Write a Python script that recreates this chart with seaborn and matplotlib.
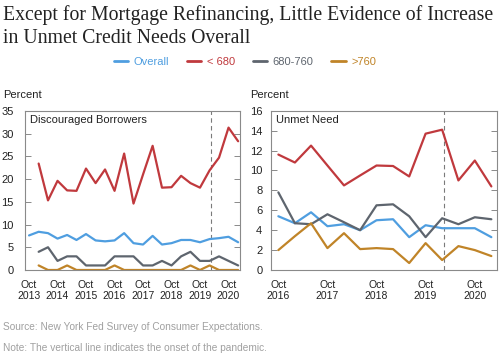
import numpy as np
import pandas as pd
import matplotlib
matplotlib.use("Agg")
import matplotlib.pyplot as plt
from matplotlib.lines import Line2D
import seaborn as sns

nan = np.nan

# Discouraged borrowers, survey every four months (Oct 2013 - Feb 2021)
db_dates = pd.date_range("2013-10-01", "2021-02-01", freq="4MS")
db_overall = [7.6, 8.4, 8.1, 6.9, 7.7, 6.6, 7.9, 6.5, 6.3, 6.5, 8.1, 5.9,
              5.6, 7.5, 5.6, 5.9, 6.6, 6.6, 6.1, 6.8, 7.0, 7.3, 6.1]
db_low = [nan, 23.4, 15.3, 19.6, 17.5, 17.4, 22.3, 19.1, 22.1, 17.4, 25.6, 14.6,
          21.0, 27.3, 18.1, 18.2, 20.7, 19.1, 18.1, 21.9, 24.7, 31.3, 28.3]
db_mid = [nan, 4, 5, 2, 3, 3, 1, 1, 1, 3, 3, 3, 1, 1, 2, 1, 3, 4, 2, 2, 3, 2, 1]
db_high = [nan, 1, 0, 0, 1, 0, 0, 0, 0, 1, 0, 0, 0, 0, 0, 0, 0, 1, 0, 1, 0, 0, 0]

# Unmet need (Oct 2016 - Feb 2021)
un_dates = pd.date_range("2016-10-01", "2021-02-01", freq="4MS")
un_overall = [5.4, 4.7, 5.8, 4.4, 4.6, 4.0, 5.0, 5.1, 3.3, 4.5, 4.2, 4.2, 4.2, 3.3]
un_low = [11.6, 10.8, 12.5, 10.5, 8.5, 9.5, 10.5, 10.45, 9.4, 13.7, 14.1, 9.0, 11.0, 8.4]
un_mid = [7.8, 4.7, 4.6, 5.6, 4.8, 4.0, 6.5, 6.6, 5.4, 3.3, 5.2, 4.6, 5.3, 5.1]
un_high = [2.0, 3.4, 4.7, 2.2, 3.7, 2.1, 2.2, 2.1, 0.7, 2.7, 1.0, 2.4, 2.0, 1.4]

groups = ["Overall", "< 680", "680-760", ">760"]
colors = ["#4f9ee0", "#c0393d", "#5e656e", "#c08428"]
palette = dict(zip(groups, colors))

sns.set_style("white")
plt.rcParams["font.family"] = ["Liberation Sans", "DejaVu Sans"]
plt.rcParams["axes.edgecolor"] = "#8a8a8a"
plt.rcParams["axes.linewidth"] = 0.8


def long_frame(dates, series):
    parts = []
    for name, vals in zip(groups, series):
        parts.append(pd.DataFrame({"date": dates, "value": vals, "group": name}))
    return pd.concat(parts, ignore_index=True).dropna()


db = long_frame(db_dates, [db_overall, db_low, db_mid, db_high])
un = long_frame(un_dates, [un_overall, un_low, un_mid, un_high])

fig = plt.figure(figsize=(5, 3.57), dpi=100)
ax1 = fig.add_axes([0.05, 0.2437, 0.43, 0.446])
ax2 = fig.add_axes([0.5414, 0.2437, 0.4526, 0.446])

panels = [
    (ax1, db, db_dates, "Discouraged Borrowers", 35, 5, pd.Timestamp("2013-08-10"), pd.Timestamp("2021-02-25"), 8),
    (ax2, un, un_dates, "Unmet Need", 16, 2, pd.Timestamp("2016-08-05"), pd.Timestamp("2021-03-15"), 6),
]

for ax, df, dates, label, ytop, ystep, x0, x1, ypad in panels:
    sns.lineplot(data=df, x="date", y="value", hue="group", hue_order=groups,
                 palette=palette, linewidth=1.6, legend=False, ax=ax)
    ax.axvline(pd.Timestamp("2020-02-15"), color="#7a7a7a", linestyle=(0, (4, 3)),
               linewidth=0.8, zorder=0)
    ax.set_xlim(x0, x1)
    ax.set_ylim(0, ytop)
    ax.set_yticks(np.arange(0, ytop + 1, ystep))
    octs = [d for d in dates if d.month == 10]
    ax.set_xticks(octs)
    ax.set_xticklabels([f"Oct\n{d.year}" for d in octs])
    ax.set_xticks(list(dates), minor=True)
    ax.tick_params(axis="x", which="both", direction="in", length=4, width=0.7,
                   color="#8a8a8a", labelsize=7.5, pad=7, labelcolor="#222222")
    ax.tick_params(axis="y", which="both", direction="in", length=4, width=0.7,
                   color="#8a8a8a", left=True, right=True, labelsize=8,
                   pad=ypad, labelcolor="#222222")
    ax.set_xlabel("")
    ax.set_ylabel("")
    ax.text(0.022, 0.945, label, transform=ax.transAxes, ha="left", va="center",
            fontsize=8, color="#222222")

# Titles and labels
fig.text(0.006, 0.987, "Except for Mortgage Refinancing, Little Evidence of Increase",
         family="Liberation Serif", fontsize=14.2, ha="left", va="top", color="#222222")
fig.text(0.006, 0.918, "in Unmet Credit Needs Overall",
         family="Liberation Serif", fontsize=14.2, ha="left", va="top", color="#222222")

handles = [Line2D([0], [0], color=c, lw=2) for c in colors]
fig.legend(handles, groups, loc="center", bbox_to_anchor=(0.49, 0.826), ncol=4,
           frameon=False, fontsize=8, labelcolor=colors, handlelength=1.3,
           handletextpad=0.5, columnspacing=1.6)

fig.text(0.006, 0.734, "Percent", fontsize=8, ha="left", va="center", color="#222222")
fig.text(0.5, 0.734, "Percent", fontsize=8, ha="left", va="center", color="#222222")

fig.text(0.006, 0.084, "Source: New York Fed Survey of Consumer Expectations.",
         fontsize=7.3, ha="left", va="center", color="#a0a0a0")
fig.text(0.006, 0.025, "Note: The vertical line indicates the onset of the pandemic.",
         fontsize=7.3, ha="left", va="center", color="#a0a0a0")

fig.savefig("out.png", dpi=100)
